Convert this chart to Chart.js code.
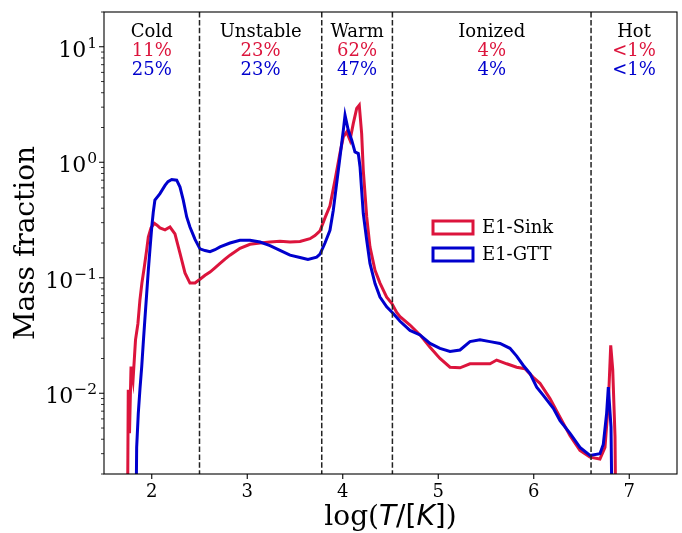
<!DOCTYPE html>
<html>
<head>
<meta charset="utf-8">
<script src="https://cdn.jsdelivr.net/npm/chart.js@4.4.1/dist/chart.umd.min.js"></script>
<style>
  body { margin: 0; background: #fff; }
  canvas { display: block; }
</style>
</head>
<body>
<canvas id="chart" width="682" height="533"></canvas>
<script>
// --- Histogrammes : log T et fraction de masse --- //
const sinkT = [1.74, 1.754, 1.767, 1.783, 1.804, 1.83, 1.855, 1.876, 1.897, 1.922, 1.945, 1.964, 1.992, 2.027, 2.055, 2.086, 2.139, 2.191, 2.243, 2.296, 2.348, 2.40, 2.453, 2.505, 2.558, 2.61, 2.662, 2.715, 2.767, 2.819, 2.872, 2.924, 3.029, 3.134, 3.238, 3.343, 3.448, 3.552, 3.657, 3.709, 3.762, 3.814, 3.866, 3.919, 3.971, 4.006, 4.041, 4.076, 4.11, 4.146, 4.173, 4.198, 4.215, 4.251, 4.285, 4.338, 4.39, 4.46, 4.513, 4.565, 4.6, 4.704, 4.809, 4.914, 5.018, 5.123, 5.228, 5.332, 5.437, 5.542, 5.612, 5.717, 5.821, 5.908, 5.992, 6.065, 6.17, 6.275, 6.38, 6.484, 6.589, 6.693, 6.746, 6.781, 6.806, 6.827, 6.851, 6.869];
const sinkFrac = [1e-4, 0.0107, 0.0045, 0.017, 0.013, 0.029, 0.04, 0.064, 0.09, 0.124, 0.17, 0.225, 0.27, 0.296, 0.285, 0.27, 0.26, 0.275, 0.24, 0.163, 0.11, 0.09, 0.09, 0.097, 0.105, 0.112, 0.122, 0.133, 0.145, 0.157, 0.168, 0.18, 0.195, 0.2, 0.204, 0.207, 0.204, 0.206, 0.218, 0.232, 0.255, 0.33, 0.42, 0.7, 1.2, 1.66, 1.83, 1.55, 2.16, 2.92, 3.12, 1.77, 0.85, 0.336, 0.185, 0.116, 0.09, 0.068, 0.06, 0.05, 0.046, 0.039, 0.032, 0.025, 0.02, 0.0168, 0.0166, 0.018, 0.018, 0.018, 0.0194, 0.018, 0.0168, 0.0163, 0.0138, 0.0122, 0.009, 0.0062, 0.0043, 0.0032, 0.0028, 0.0027, 0.0034, 0.0082, 0.026, 0.016, 0.0042, 1e-4];

const gttT = [1.825, 1.842, 1.859, 1.877, 1.895, 1.912, 1.93, 1.947, 1.964, 1.982, 2.0, 2.016, 2.033, 2.086, 2.139, 2.17, 2.209, 2.261, 2.296, 2.33, 2.366, 2.40, 2.453, 2.505, 2.558, 2.61, 2.662, 2.715, 2.819, 2.924, 3.029, 3.134, 3.238, 3.343, 3.448, 3.552, 3.636, 3.727, 3.762, 3.814, 3.866, 3.901, 3.936, 3.971, 4.006, 4.024, 4.058, 4.094, 4.128, 4.163, 4.181, 4.198, 4.215, 4.251, 4.285, 4.338, 4.39, 4.46, 4.529, 4.6, 4.704, 4.809, 4.914, 5.018, 5.123, 5.228, 5.332, 5.437, 5.542, 5.647, 5.751, 5.821, 5.891, 5.961, 6.031, 6.10, 6.205, 6.275, 6.38, 6.484, 6.589, 6.693, 6.728, 6.763, 6.781, 6.809, 6.833];
const gttFrac = [1e-4, 0.0034, 0.0067, 0.011, 0.017, 0.028, 0.046, 0.073, 0.116, 0.18, 0.275, 0.37, 0.47, 0.535, 0.63, 0.68, 0.71, 0.70, 0.61, 0.47, 0.336, 0.275, 0.215, 0.178, 0.172, 0.168, 0.175, 0.185, 0.2, 0.211, 0.211, 0.204, 0.19, 0.173, 0.157, 0.15, 0.144, 0.151, 0.16, 0.2, 0.258, 0.384, 0.654, 1.11, 1.89, 2.55, 1.89, 1.55, 1.23, 1.19, 0.91, 0.57, 0.36, 0.211, 0.133, 0.089, 0.068, 0.056, 0.049, 0.042, 0.035, 0.032, 0.027, 0.0245, 0.023, 0.0237, 0.028, 0.029, 0.028, 0.027, 0.0245, 0.021, 0.0174, 0.0148, 0.0113, 0.0096, 0.0074, 0.0058, 0.0045, 0.0034, 0.0029, 0.003, 0.0036, 0.0067, 0.0113, 0.0051, 1e-4];

// --- Phases --- //
const phaseNames = ["Cold", "Unstable", "Warm", "Ionized", "Hot"];
const sinkShare = ["11%", "23%", "62%", "4%", "<1%"];
const gttShare = ["25%", "23%", "47%", "4%", "<1%"];
const phaseEdges = [2.5, 3.78, 4.52, 6.6];

// --- Axes --- //
const xTicks = [2, 3, 4, 5, 6, 7];
const yMajor = [1e-2, 1e-1, 1, 10];
const yExp = ["\u22122", "\u22121", "0", "1"];
const yMinor = [];
for (let e = -3; e <= 1; e++) {
    for (let m = 2; m <= 9; m++) {
        const v = m * Math.pow(10, e);
        if (v >= 2e-3 && v <= 20) yMinor.push(v);
    }
}

const RED = "#dc143c";
const BLUE = "#0000cd";
const SERIF = '"DejaVu Serif", serif';
const SANS = '"DejaVu Sans", sans-serif';

const toPoints = (xs, ys) => xs.map((x, i) => ({ x: x, y: ys[i] }));

// Habillage : traits de phase, cadre, graduations, textes, légende
const decorations = {
    id: "decorations",
    afterDatasetsDraw(chart) {
        const { ctx, chartArea: a, scales: { x, y } } = chart;
        ctx.save();

        // limites de phase
        ctx.strokeStyle = "#222";
        ctx.lineWidth = 1.5;
        ctx.setLineDash([5.5, 2.4]);
        phaseEdges.forEach(e => {
            const px = x.getPixelForValue(e);
            ctx.beginPath();
            ctx.moveTo(px, a.top);
            ctx.lineTo(px, a.bottom);
            ctx.stroke();
        });
        ctx.setLineDash([]);

        // cadre
        ctx.strokeStyle = "#000";
        ctx.lineWidth = 1.1;
        ctx.strokeRect(a.left, a.top, a.right - a.left, a.bottom - a.top);

        // graduations
        ctx.beginPath();
        xTicks.forEach(v => {
            const px = x.getPixelForValue(v);
            ctx.moveTo(px, a.bottom);
            ctx.lineTo(px, a.bottom + 5);
        });
        yMajor.forEach(v => {
            const py = y.getPixelForValue(v);
            ctx.moveTo(a.left, py);
            ctx.lineTo(a.left - 5, py);
        });
        ctx.stroke();
        ctx.lineWidth = 0.8;
        ctx.beginPath();
        yMinor.forEach(v => {
            const py = y.getPixelForValue(v);
            ctx.moveTo(a.left, py);
            ctx.lineTo(a.left - 3, py);
        });
        ctx.stroke();

        // étiquettes de l'axe y : 10^n
        ctx.fillStyle = "#000";
        ctx.textAlign = "right";
        ctx.textBaseline = "alphabetic";
        yMajor.forEach((v, i) => {
            const py = y.getPixelForValue(v);
            const right = a.left - 7;
            ctx.font = "15.5px " + SERIF;
            const wExp = ctx.measureText(yExp[i]).width;
            ctx.fillText(yExp[i], right, py + 1);
            ctx.font = "22px " + SERIF;
            ctx.fillText("10", right - wExp - 1, py + 10);
        });

        // titre de l'axe y
        ctx.save();
        ctx.translate(27, (a.top + a.bottom) / 2);
        ctx.rotate(-Math.PI / 2);
        ctx.textAlign = "center";
        ctx.textBaseline = "middle";
        ctx.font = "28px " + SERIF;
        ctx.fillText("Mass fraction", 0, 0);
        ctx.restore();

        // titre de l'axe x : log(T/[K])
        const parts = [
            ["log(", "28px " + SERIF],
            ["T", "italic 28px " + SANS],
            ["/[", "28px " + SANS],
            ["K", "italic 28px " + SANS],
            ["]", "28px " + SANS],
            [")", "28px " + SERIF]
        ];
        let total = 0;
        parts.forEach(p => { ctx.font = p[1]; total += ctx.measureText(p[0]).width; });
        let cx = (a.left + a.right) / 2 - total / 2;
        ctx.textAlign = "left";
        parts.forEach(p => {
            ctx.font = p[1];
            ctx.fillText(p[0], cx, 525);
            cx += ctx.measureText(p[0]).width;
        });

        // noms des phases et pourcentages
        const bounds = [x.min].concat(phaseEdges, [x.max]);
        ctx.textAlign = "center";
        ctx.font = "18px " + SERIF;
        phaseNames.forEach((name, i) => {
            const px = x.getPixelForValue((bounds[i] + bounds[i + 1]) / 2);
            ctx.fillStyle = "#000";
            ctx.fillText(name, px, 37);
            ctx.fillStyle = RED;
            ctx.fillText(sinkShare[i], px, 56);
            ctx.fillStyle = BLUE;
            ctx.fillText(gttShare[i], px, 75);
        });

        // légende
        const lx = a.left + 329, ly = a.top + 209;
        chart.data.datasets.forEach((ds, i) => {
            const yy = ly + i * 27;
            ctx.strokeStyle = ds.borderColor;
            ctx.lineWidth = 3;
            ctx.strokeRect(lx, yy, 40, 13);
            ctx.fillStyle = "#000";
            ctx.textAlign = "left";
            ctx.textBaseline = "middle";
            ctx.font = "18px " + SERIF;
            ctx.fillText(ds.label, lx + 49, yy + 7.5);
        });

        ctx.restore();
    }
};

new Chart(document.getElementById("chart"), {
    type: "line",
    data: {
        datasets: [
            {
                label: "E1-Sink",
                data: toPoints(sinkT, sinkFrac),
                borderColor: RED,
                borderWidth: 3,
                pointRadius: 0,
                fill: false,
                order: 1,
                clip: 0
            },
            {
                label: "E1-GTT",
                data: toPoints(gttT, gttFrac),
                borderColor: BLUE,
                borderWidth: 3,
                pointRadius: 0,
                fill: false,
                order: 0,
                clip: 0
            }
        ]
    },
    options: {
        responsive: false,
        animation: false,
        layout: { padding: { top: 12, right: 5, left: 0, bottom: 0 } },
        plugins: { legend: { display: false }, tooltip: { enabled: false } },
        scales: {
            x: {
                type: "linear",
                min: 1.5,
                max: 7.5,
                afterBuildTicks: s => { s.ticks = xTicks.map(v => ({ value: v })); },
                afterFit: s => { s.height = 59; },
                grid: { display: false, drawTicks: false },
                border: { display: false },
                ticks: {
                    color: "#000",
                    font: { family: SERIF, size: 18 },
                    padding: 8,
                    maxRotation: 0,
                    autoSkip: false,
                    callback: v => String(v)
                }
            },
            y: {
                type: "logarithmic",
                min: 2e-3,
                max: 20,
                afterFit: s => { s.width = 104; },
                grid: { display: false, drawTicks: false },
                border: { display: false },
                ticks: { display: false }
            }
        }
    },
    plugins: [decorations]
});
</script>
</body>
</html>
